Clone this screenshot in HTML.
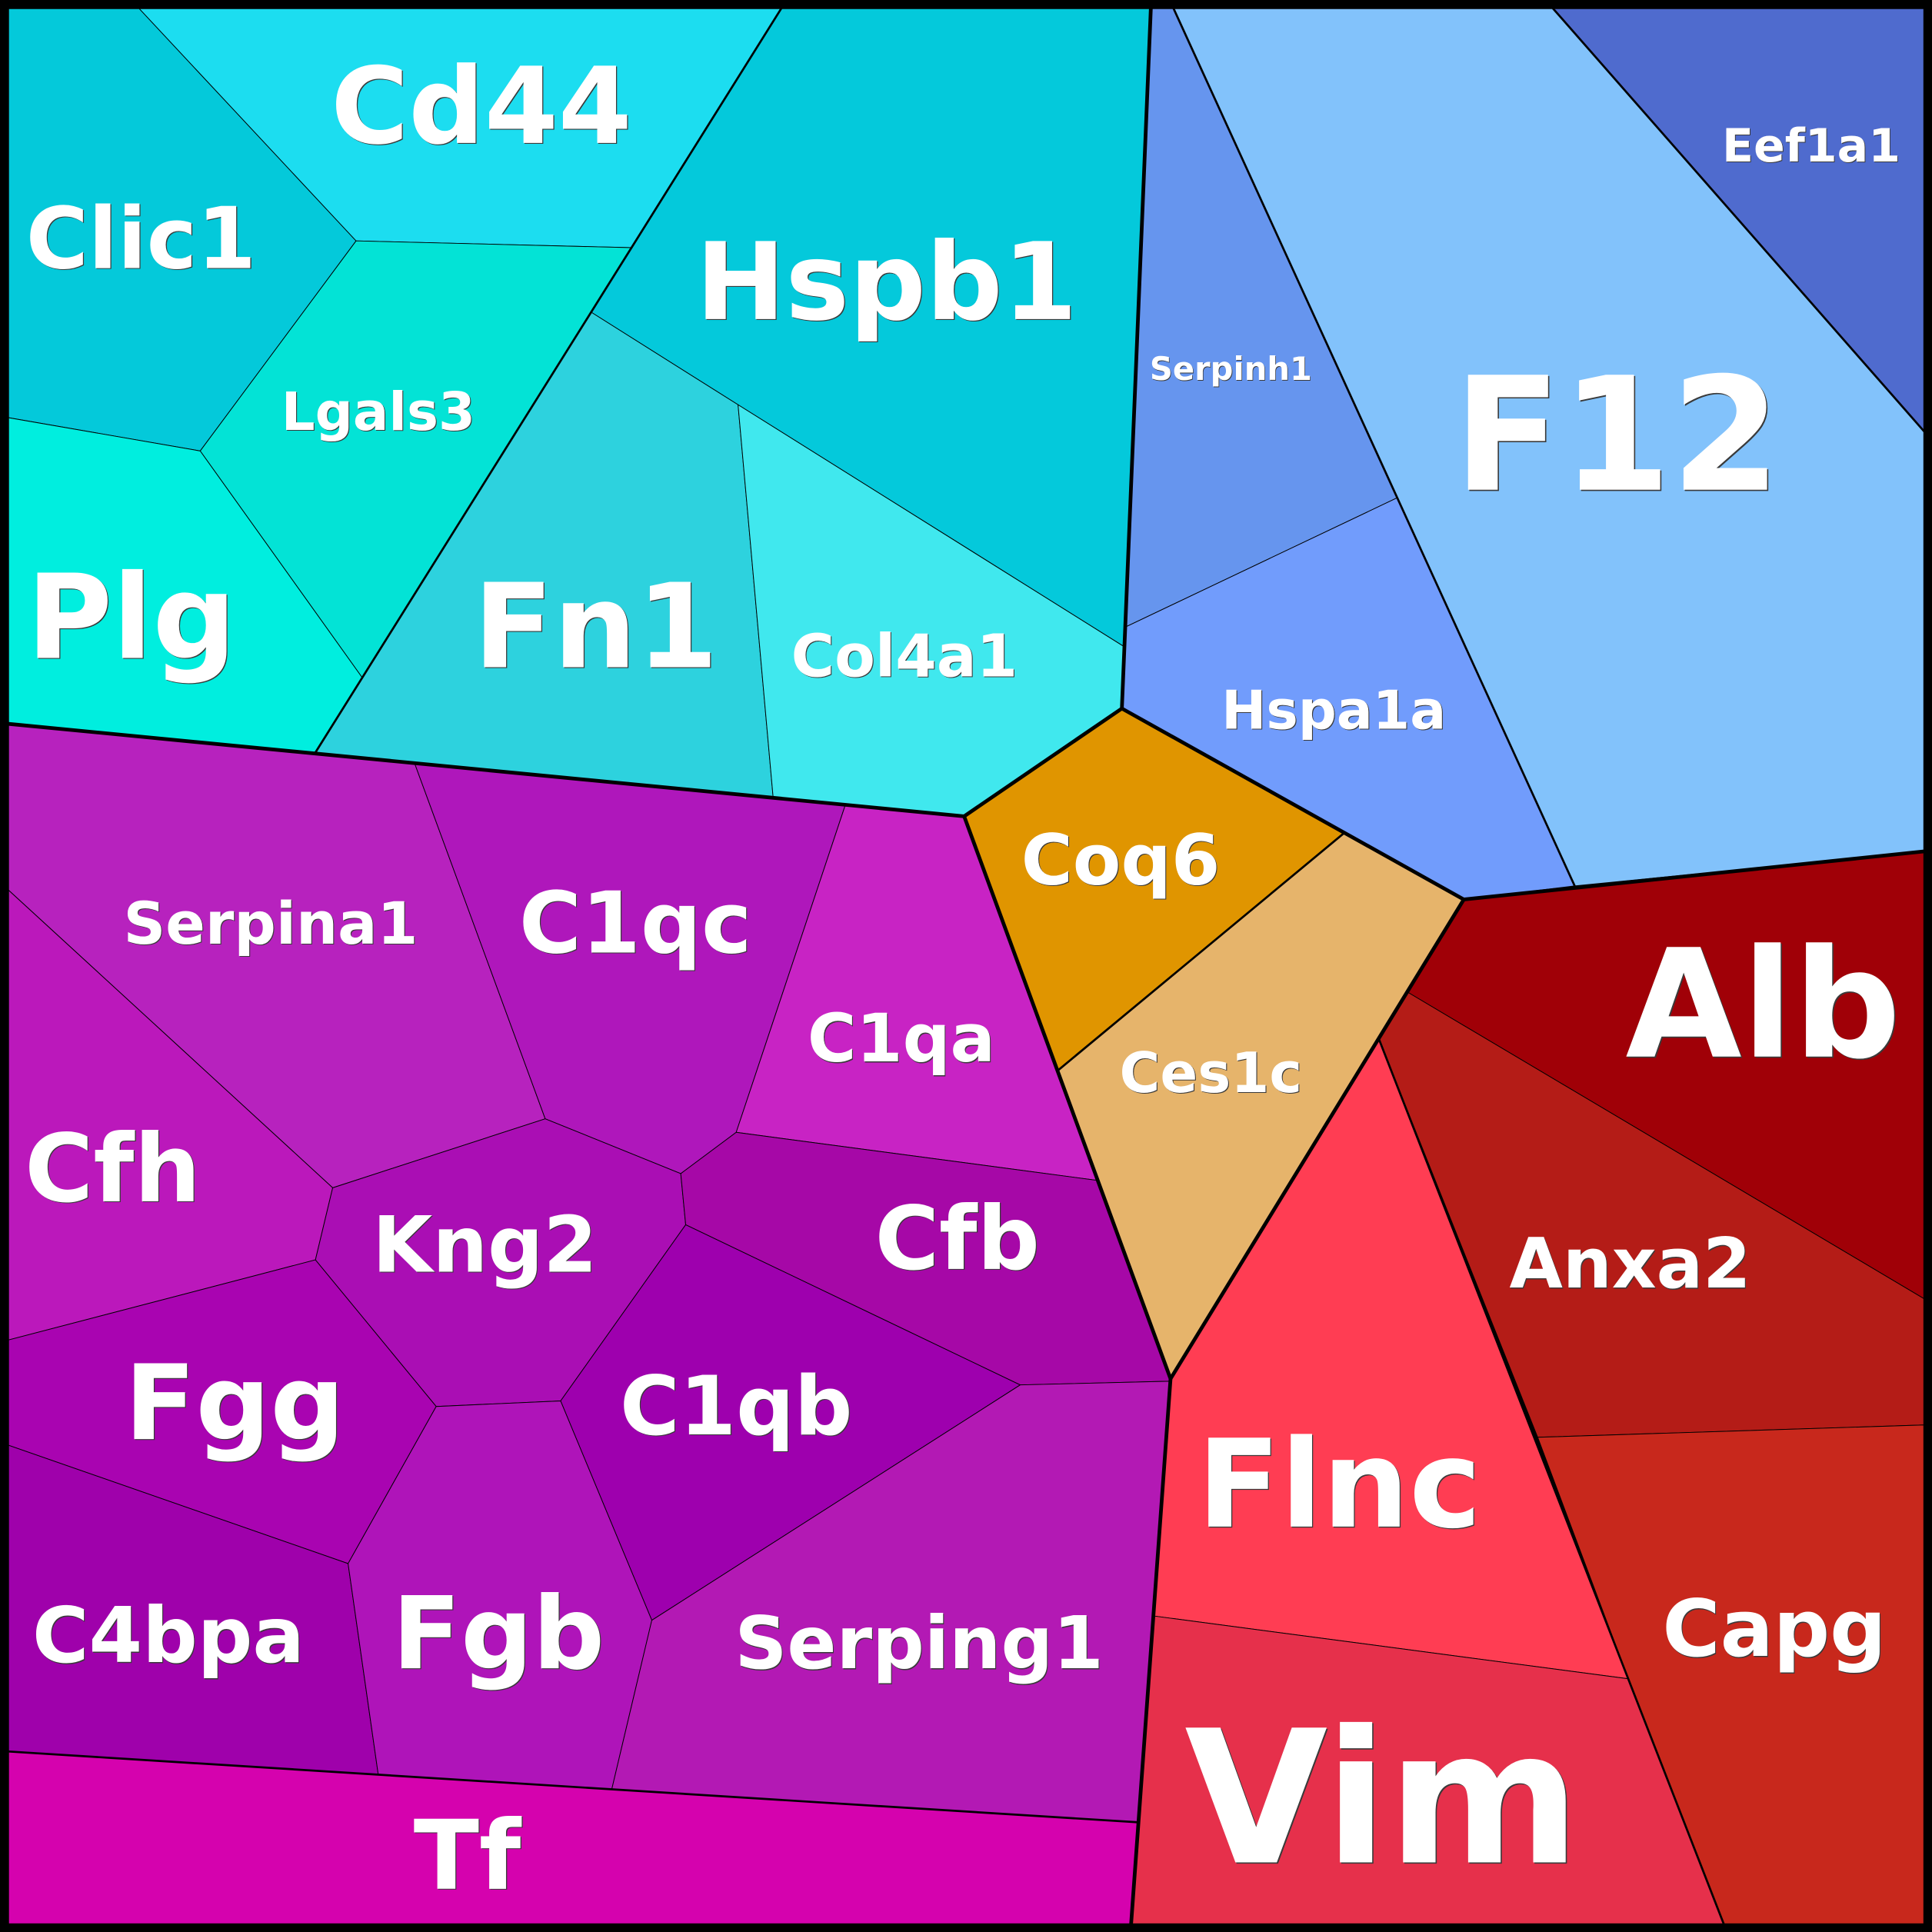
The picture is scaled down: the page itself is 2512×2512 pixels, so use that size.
<!DOCTYPE html>
<html><head><meta charset="utf-8"><style>
html,body{margin:0;padding:0;background:#000;}
svg{display:block;}
text{font-family:"DejaVu Sans","Liberation Sans",sans-serif;font-weight:bold;text-anchor:middle;}
.s{fill:#3a3a3a;}
.w{fill:#ffffff;}
</style></head><body>
<svg xmlns="http://www.w3.org/2000/svg" width="2512" height="2512" viewBox="0 0 1568 1568">
<rect x="0" y="0" width="1568" height="1568" fill="#000"/>
<g stroke="#000" stroke-width="0.6" stroke-linejoin="round">
<polygon fill="#04C9DA" points="7,7 113,7 289,195.5 162.5,366 7,339"/>
<polygon fill="#1CDDF0" points="113,7 634,7 512.5,201 289,195.5"/>
<polygon fill="#04C9DB" points="634,7 934,7 912.6,525 599,328.5 480,253.5 512.5,201"/>
<polygon fill="#03E3D6" points="289,195.5 512.5,201 480,253.5 294,550 162.5,366"/>
<polygon fill="#00EEDF" points="7,339 162.5,366 294,550 255.5,611.5 7,587.5"/>
<polygon fill="#2DD2DE" points="480,253.5 599,328.5 627.5,647.5 255.5,611.5 294,550"/>
<polygon fill="#40E8EE" points="599,328.5 912.6,525 910.5,575 782.5,662.5 627.5,647.5"/>
<polygon fill="#6695EE" points="934,7 952.5,7 1134,404 913.2,509 912.6,525"/>
<polygon fill="#719CFC" points="913.2,509 1134,404 1278,719 1188,730 910.5,575"/>
<polygon fill="#82C2FB" points="952.5,7 1260.5,7 1561.5,350 1561.5,691 1278,719 1134,404"/>
<polygon fill="#4F6BCE" points="1260.5,7 1561.5,7 1561.5,350"/>
<polygon fill="#E09500" points="782.5,662.5 910.5,575 1091,676 858.3,869"/>
<polygon fill="#E6B46B" points="858.3,869 1091,676 1188,730 950,1119"/>
<polygon fill="#A00007" points="1188,730 1561.5,691 1561.5,1054 1142,805"/>
<polygon fill="#B41C17" points="1142,805 1561.5,1054 1561.5,1156.5 1248,1166.5 1119,843"/>
<polygon fill="#FF3D53" points="950,1119 1119,843 1321.5,1362.5 936.1,1311.5"/>
<polygon fill="#C8281C" points="1248,1166.5 1561.5,1156.5 1561.5,1561.5 1399,1561.5 1321.5,1362.5"/>
<polygon fill="#E6304B" points="936.1,1311.5 1321.5,1362.5 1399,1561.5 918,1561.5"/>
<polygon fill="#B722BE" points="7,587.5 255.5,611.5 336.5,619.5 442.5,908 270,964 7,722.5"/>
<polygon fill="#AF17BB" points="336.5,619.5 686,653.5 597.5,919 552.5,952.5 442.5,908"/>
<polygon fill="#C823C4" points="686,653.5 782.5,662.5 890.5,958 597.5,919"/>
<polygon fill="#BB18BB" points="7,722.5 270,964 256,1022.5 7,1087.5"/>
<polygon fill="#AA0EB4" points="270,964 442.5,908 552.5,952.5 556.5,994 455,1137 354,1141.5 256,1022.5"/>
<polygon fill="#A608A7" points="597.5,919 890.5,958 950,1119 949.6,1121 828,1124 556.5,994 552.5,952.5"/>
<polygon fill="#A904B1" points="7,1087.5 256,1022.5 354,1141.5 282.5,1269 7,1173"/>
<polygon fill="#9E00AE" points="556.5,994 828,1124 529,1315 455,1137"/>
<polygon fill="#9F01AB" points="7,1173 282.5,1269 307,1440.3 7,1421.5"/>
<polygon fill="#AF14B9" points="282.5,1269 354,1141.5 455,1137 529,1315 496.5,1452.2 307,1440.3"/>
<polygon fill="#B319B4" points="529,1315 828,1124 949.6,1121 924,1479 496.5,1452.2"/>
<polygon fill="#D502AE" points="7,1421.5 307,1440.3 496.5,1452.2 924,1479 918,1561.5 7,1561.5"/>
</g>
<g stroke="#000" stroke-width="1.7" stroke-linecap="round" fill="none">
<line x1="634" y1="7" x2="255.5" y2="611.5"/>
<line x1="952.5" y1="7" x2="1278" y2="719"/>
<line x1="1260.5" y1="7" x2="1561.5" y2="350"/>
<line x1="1119" y1="843" x2="1399" y2="1561.5"/>
<line x1="7" y1="1421.5" x2="924" y2="1479"/>
<line x1="858.3" y1="869" x2="1091" y2="676"/>
</g>
<g stroke="#000" stroke-width="3" stroke-linecap="round" stroke-linejoin="round" fill="none">
<line x1="7" y1="587.5" x2="782.5" y2="662.5"/>
<polyline points="782.5,662.5 910.5,575 934,7"/>
<polyline points="910.5,575 1188,730 1561.5,691"/>
<polyline points="1188,730 950,1119 782.5,662.5"/>
<line x1="950" y1="1119" x2="918" y2="1561.5"/>
</g>
<g>
<text class="s" x="391.5" y="116.7" font-size="86">Cd44</text><text class="w" x="390.7" y="116" font-size="86">Cd44</text>
<text class="s" x="115.3" y="218.2" font-size="69">Clic1</text><text class="w" x="114.5" y="217.5" font-size="69">Clic1</text>
<text class="s" x="720.3" y="259.7" font-size="87">Hspb1</text><text class="w" x="719.5" y="259" font-size="87">Hspb1</text>
<text class="s" x="307.7" y="349.6" font-size="43">Lgals3</text><text class="w" x="307" y="349" font-size="43">Lgals3</text>
<text class="s" x="107.5" y="534.7" font-size="95">Plg</text><text class="w" x="106.7" y="534" font-size="95">Plg</text>
<text class="s" x="484.3" y="542.2" font-size="95">Fn1</text><text class="w" x="483.5" y="541.5" font-size="95">Fn1</text>
<text class="s" x="734.7" y="549.6" font-size="48">Col4a1</text><text class="w" x="734" y="549" font-size="48">Col4a1</text>
<text class="s" x="220.4" y="766.6" font-size="47.5">Serpina1</text><text class="w" x="219.7" y="766" font-size="47.5">Serpina1</text>
<text class="s" x="516.5" y="773.7" font-size="69">C1qc</text><text class="w" x="515.7" y="773" font-size="69">C1qc</text>
<text class="s" x="1470.6" y="131.6" font-size="37.5">Eef1a1</text><text class="w" x="1470" y="131" font-size="37.5">Eef1a1</text>
<text class="s" x="999.5" y="309" font-size="26">Serpinh1</text><text class="w" x="999" y="308.5" font-size="26">Serpinh1</text>
<text class="s" x="1313.5" y="398.5" font-size="128">F12</text><text class="w" x="1312.5" y="397.5" font-size="128">F12</text>
<text class="s" x="1083.2" y="592.1" font-size="43.5">Hspa1a</text><text class="w" x="1082.5" y="591.5" font-size="43.5">Hspa1a</text>
<text class="s" x="910.2" y="718.2" font-size="57">Coq6</text><text class="w" x="909.5" y="717.5" font-size="57">Coq6</text>
<text class="s" x="983.4" y="887.1" font-size="45">Ces1c</text><text class="w" x="982.7" y="886.5" font-size="45">Ces1c</text>
<text class="s" x="732.2" y="862.2" font-size="54">C1qa</text><text class="w" x="731.5" y="861.5" font-size="54">C1qa</text>
<text class="s" x="92.3" y="975.7" font-size="76">Cfh</text><text class="w" x="91.5" y="975" font-size="76">Cfh</text>
<text class="s" x="394.2" y="1032.7" font-size="63">Kng2</text><text class="w" x="393.5" y="1032" font-size="63">Kng2</text>
<text class="s" x="777.8" y="1030.7" font-size="71">Cfb</text><text class="w" x="777" y="1030" font-size="71">Cfb</text>
<text class="s" x="191.3" y="1168.7" font-size="84.5">Fgg</text><text class="w" x="190.5" y="1168" font-size="84.5">Fgg</text>
<text class="s" x="598.3" y="1164.7" font-size="66">C1qb</text><text class="w" x="597.5" y="1164" font-size="66">C1qb</text>
<text class="s" x="137.4" y="1349.7" font-size="62.5">C4bpa</text><text class="w" x="136.7" y="1349" font-size="62.5">C4bpa</text>
<text class="s" x="405.3" y="1354.7" font-size="81.5">Fgb</text><text class="w" x="404.5" y="1354" font-size="81.5">Fgb</text>
<text class="s" x="746.7" y="1354.7" font-size="59">Serping1</text><text class="w" x="746" y="1354" font-size="59">Serping1</text>
<text class="s" x="380" y="1533.7" font-size="78">Tf</text><text class="w" x="379.2" y="1533" font-size="78">Tf</text>
<text class="s" x="1432" y="858.5" font-size="122">Alb</text><text class="w" x="1431" y="857.5" font-size="122">Alb</text>
<text class="s" x="1323.7" y="1045.7" font-size="56">Anxa2</text><text class="w" x="1323" y="1045" font-size="56">Anxa2</text>
<text class="s" x="1087.8" y="1239.8" font-size="99">Flnc</text><text class="w" x="1087" y="1239" font-size="99">Flnc</text>
<text class="s" x="1440.7" y="1344.7" font-size="64">Capg</text><text class="w" x="1440" y="1344" font-size="64">Capg</text>
<text class="s" x="1123" y="1512.5" font-size="150">Vim</text><text class="w" x="1122" y="1511.5" font-size="150">Vim</text>
</g>
<rect x="3.5" y="3.5" width="1561" height="1561" fill="none" stroke="#000" stroke-width="7"/>
</svg>
</body></html>
